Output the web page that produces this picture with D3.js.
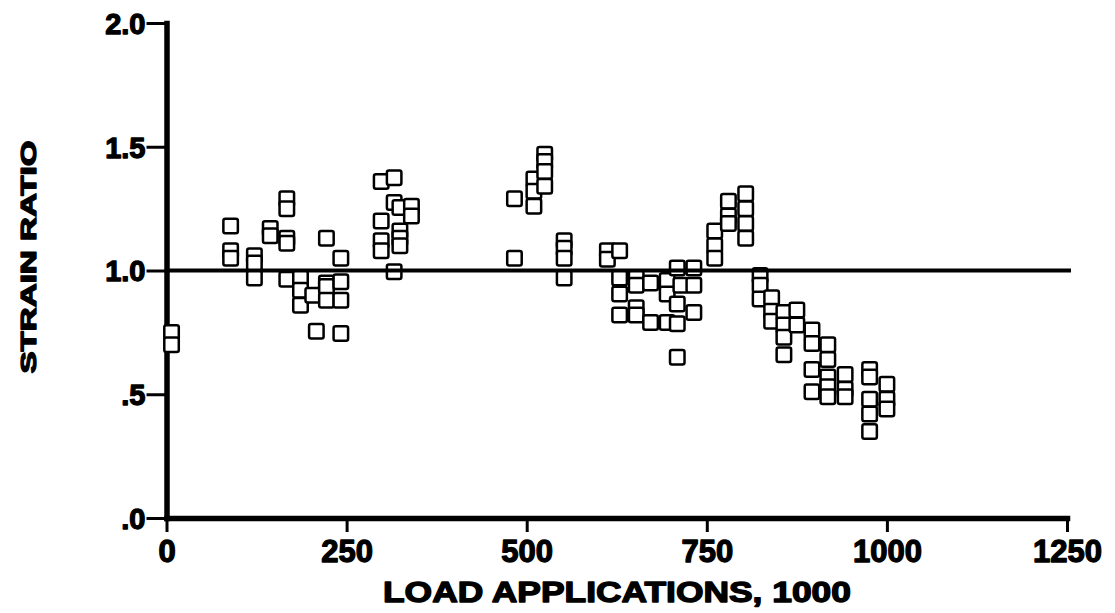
<!DOCTYPE html>
<html>
<head>
<meta charset="utf-8">
<script src="https://cdn.jsdelivr.net/npm/d3@7"></script>
<style>
  html, body { margin: 0; padding: 0; background: #fff; }
  svg { display: block; }
  text { font-family: "Liberation Sans", Arial, sans-serif; font-weight: bold; fill: #000; }
</style>
</head>
<body>
<svg id="chart" width="1115" height="613"></svg>
<script>
// Load applications (thousands) and strain ratio readings, grouped by load level
const loads = [7, 89, 122, 144, 167, 186, 203, 208, 222, 242,
               298, 316, 324, 340,
               483, 510, 525, 552,
               612, 629, 652, 672, 695, 709, 714, 732,
               761, 780, 804, 824, 840, 857, 875, 896, 918, 942, 976, 1000];
const ratios = [
  [0.75, 0.70],
  [1.18, 1.08, 1.05],
  [1.06, 1.03, 0.97],
  [1.17, 1.14],
  [1.29, 1.25, 1.13, 1.11, 0.965],
  [0.97, 0.92, 0.86],
  [0.90],
  [0.755],
  [1.13, 0.95, 0.935, 0.88],
  [1.05, 0.955, 0.88, 0.745],
  [1.36, 1.20, 1.12, 1.08],
  [1.375, 1.275, 0.995],
  [1.255, 1.16, 1.13, 1.10],
  [1.26, 1.22],
  [1.29, 1.05],
  [1.37, 1.32, 1.26],
  [1.47, 1.44, 1.40, 1.34],
  [1.12, 1.09, 1.05, 0.97],
  [1.08, 1.045],
  [1.08, 0.97, 0.905, 0.82],
  [0.97, 0.94, 0.85, 0.82],
  [0.95, 0.79],
  [0.96, 0.905, 0.79],
  [1.01, 0.865, 0.785, 0.65],
  [0.94],
  [1.01, 0.94, 0.83],
  [1.16, 1.10, 1.05],
  [1.28, 1.22, 1.19],
  [1.31, 1.25, 1.19, 1.13],
  [0.98, 0.94, 0.885],
  [0.89, 0.835, 0.795],
  [0.83, 0.78, 0.73, 0.66],
  [0.84, 0.78],
  [0.76, 0.705, 0.60, 0.51],
  [0.70, 0.64, 0.57, 0.53, 0.49],
  [0.58, 0.52, 0.49],
  [0.60, 0.57, 0.48, 0.42, 0.35],
  [0.54, 0.48, 0.44]
];
const xTicks = [0, 250, 500, 750, 1000, 1250];
const yTicks = [0, 0.5, 1.0, 1.5, 2.0];
const yTickLabels = [".0", ".5", "1.0", "1.5", "2.0"];
const referenceRatio = 1.0;

const points = [];
loads.forEach((ld, i) => ratios[i].forEach(r => points.push({ load: ld, ratio: r })));

const svg = d3.select("#chart");
const x = d3.scaleLinear().domain([0, 1250]).range([166.5, 1067]);
const y = d3.scaleLinear().domain([0, 2]).range([518, 23]);

// Axes
const xAxis = d3.axisBottom(x).tickValues(xTicks).tickSizeInner(14).tickSizeOuter(0).tickPadding(8)
  .tickFormat(d3.format("d"));
const yAxis = d3.axisLeft(y).tickValues(yTicks).tickSizeInner(20).tickSizeOuter(0).tickPadding(1)
  .tickFormat((d, i) => yTickLabels[i]);

const gx = svg.append("g").attr("transform", `translate(0,${y(0)})`).call(xAxis);
const gy = svg.append("g").attr("transform", `translate(${x(0)},0)`).call(yAxis);

[gx, gy].forEach(g => {
  g.select(".domain").attr("stroke", "#000").attr("stroke-width", 5.5).attr("stroke-linecap", "square");
  g.selectAll(".tick line").attr("stroke", "#000").attr("stroke-width", 3);
  g.selectAll(".tick text").attr("font-family", "'Liberation Sans', Arial, sans-serif")
    .attr("font-weight", "bold").attr("fill", "#000").attr("stroke", "#000").attr("stroke-width", 1.3)
    .attr("stroke-linejoin", "round");
});
gx.selectAll(".tick text").attr("font-size", 31);
gy.selectAll(".tick text").attr("font-size", 29).attr("dy", "0.36em");

// Data markers: open squares
const s = 14.5;
svg.append("g").selectAll("rect").data(points).join("rect")
  .attr("x", d => x(d.load) - s / 2)
  .attr("y", d => y(d.ratio) - s / 2)
  .attr("width", s).attr("height", s)
  .attr("rx", 2)
  .attr("fill", "#fff").attr("stroke", "#000").attr("stroke-width", 2.5);

// Reference line at strain ratio 1.0
svg.append("line")
  .attr("x1", x(0)).attr("x2", x(1250) + 4)
  .attr("y1", y(referenceRatio)).attr("y2", y(referenceRatio))
  .attr("stroke", "#000").attr("stroke-width", 4);

// Axis titles
svg.append("text")
  .attr("x", 617).attr("y", 602)
  .attr("text-anchor", "middle")
  .attr("font-size", 30)
  .attr("stroke", "#000").attr("stroke-width", 1.4).attr("stroke-linejoin", "round")
  .attr("textLength", 468).attr("lengthAdjust", "spacingAndGlyphs")
  .text("LOAD APPLICATIONS, 1000");

svg.append("text")
  .attr("transform", "translate(36,257) rotate(-90)")
  .attr("text-anchor", "middle")
  .attr("font-size", 22)
  .attr("stroke", "#000").attr("stroke-width", 1.3).attr("stroke-linejoin", "round")
  .attr("textLength", 233).attr("lengthAdjust", "spacingAndGlyphs")
  .text("STRAIN RATIO");
</script>
</body>
</html>
